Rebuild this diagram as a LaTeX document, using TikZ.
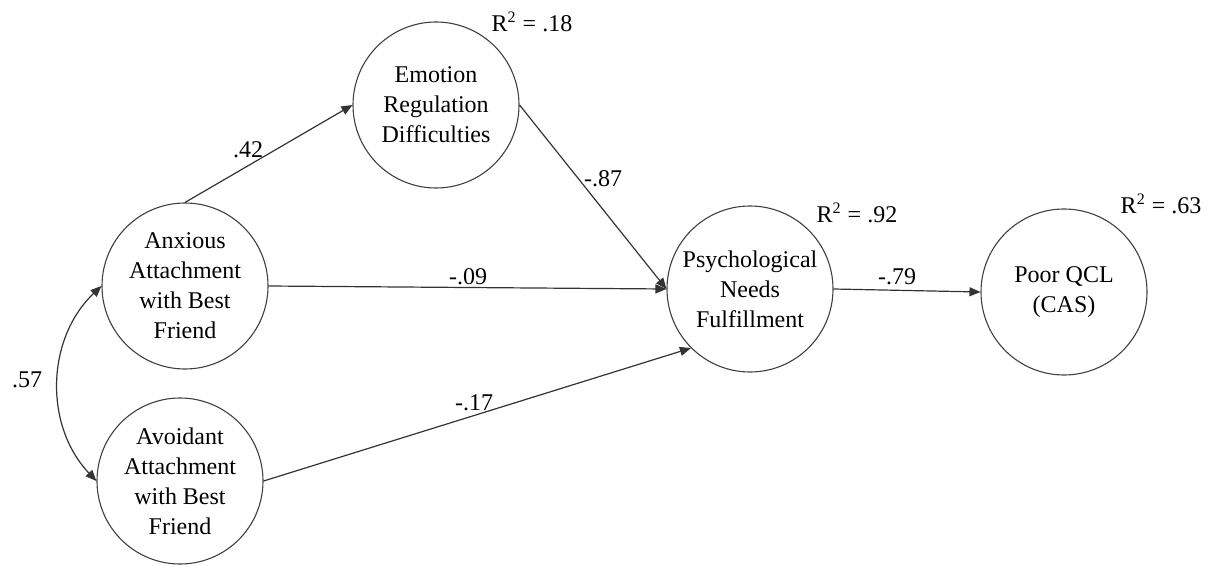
\documentclass[tikz,border=0pt]{standalone}
\usepackage{fontspec}
\setmainfont{Liberation Serif}
\usetikzlibrary{arrows.meta}

\begin{document}
\begin{tikzpicture}[x=0.5pt, y=-0.5pt, >={Triangle[length=5.5pt, width=4.5pt]},
    var/.style={circle, draw=black!75, line width=0.55pt, minimum size=83pt, inner sep=0pt, align=center, font=\fontsize{12}{15}\selectfont},
    coef/.style={inner sep=0pt, font=\fontsize{12}{14}\selectfont},
    reg/.style={->, draw=black!80, line width=0.6pt}]
    \useasboundingbox (0,0) rectangle (1210,567);
    % latent variables
    \node[var] (emo) at (436,105) {Emotion\\Regulation\\Difficulties};
    \node[var] (anx) at (185,286) {Anxious\\Attachment\\with Best\\Friend};
    \node[var] (avo) at (180,481) {Avoidant\\Attachment\\with Best\\Friend};
    \node[var] (psy) at (750,289) {Psychological\\Needs\\Fulfillment};
    \node[var] (qcl) at (1064,292) {Poor QCL\\(CAS)};
    % explained variance
    \node[coef] (r18) at (532,22) {R\textsuperscript{2} = .18};
    \node[coef] (r92) at (857,213) {R\textsuperscript{2} = .92};
    \node[coef] (r63) at (1161,204) {R\textsuperscript{2} = .63};
        \draw[reg] (anx.north) -- (emo.west);
        \draw[reg] (emo.east) -- (psy.west);
        \draw[reg] (anx.east) -- (psy.west);
        \draw[reg] (avo.east) -- (psy.south west);
        \draw[reg] (psy.east) -- (qcl.west);
        \draw[reg, <->] (anx.west) to[bend right=45] (avo.west);
    % path coefficients
    \node[coef] (c42) at (248,150) {.42};
    \node[coef] (c87) at (603,179) {-.87};
    \node[coef] (c09) at (468,277) {-.09};
    \node[coef] (c17) at (474,403) {-.17};
    \node[coef] (c79) at (897,277) {-.79};
    \node[coef] (c57) at (27,380) {.57};
\end{tikzpicture}
\end{document}
